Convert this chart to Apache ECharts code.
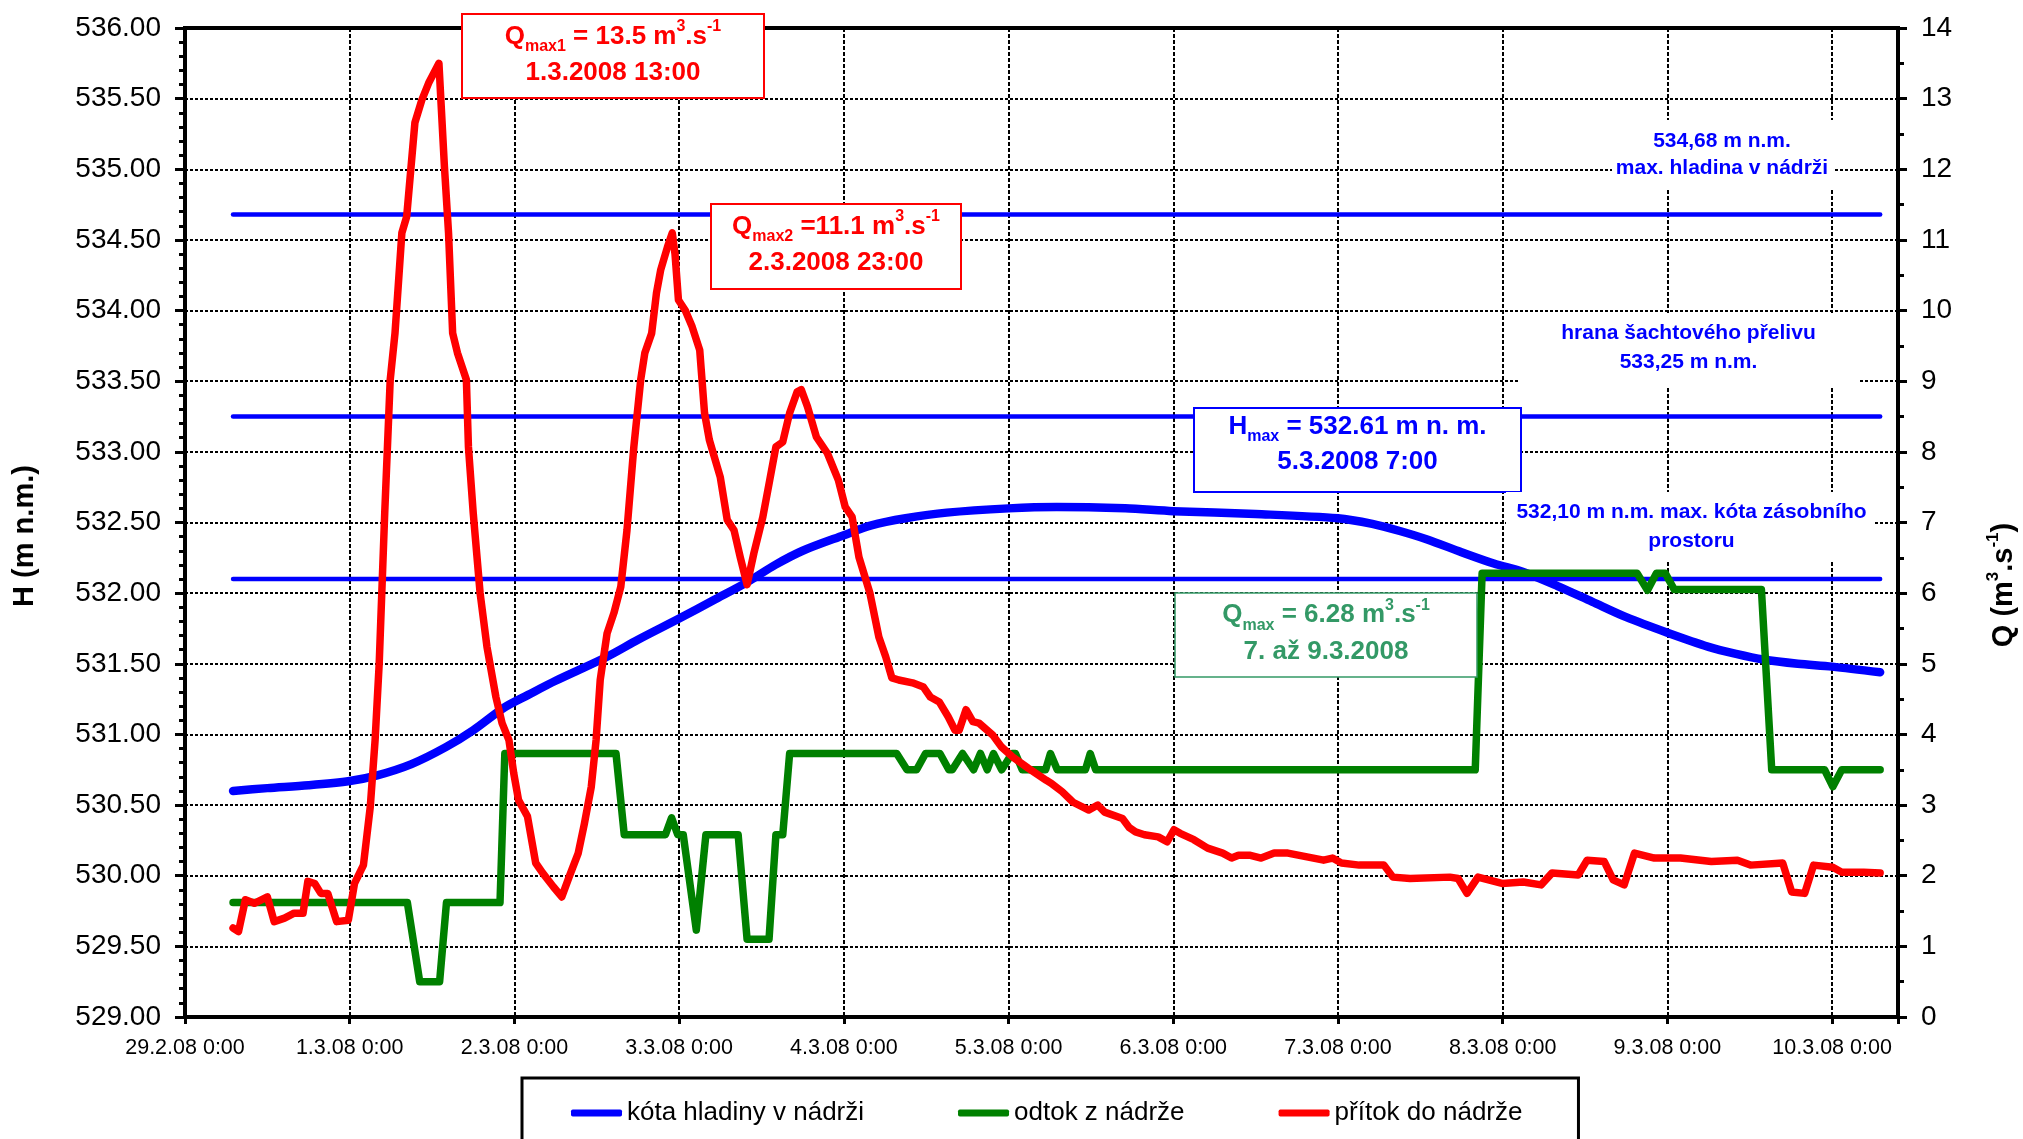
<!DOCTYPE html>
<html lang="cs">
<head>
<meta charset="utf-8">
<title>Průběh povodně na nádrži 29.2. – 10.3.2008</title>
<script src="https://cdn.jsdelivr.net/npm/echarts@6/dist/echarts.min.js"></script>
<style>
  html, body { margin: 0; padding: 0; background: #ffffff; }
  #chart { width: 2023px; height: 1139px; }
</style>
</head>
<body>
<div id="chart"></div>
<script>
// Time on the x axis is counted in hours from 29.2.2008 0:00.
const xTickLabels = ['29.2.08 0:00', '1.3.08 0:00', '2.3.08 0:00', '3.3.08 0:00', '4.3.08 0:00',
  '5.3.08 0:00', '6.3.08 0:00', '7.3.08 0:00', '8.3.08 0:00', '9.3.08 0:00', '10.3.08 0:00'];

// Reservoir water level H [m n.m.]
const hladina = [
  [7, 530.60], [12, 530.62], [18, 530.64], [24, 530.67], [28, 530.71], [33, 530.79], [38, 530.91],
  [42, 531.03], [46.5, 531.19], [50, 531.28], [54, 531.38], [61.5, 531.55], [66, 531.67], [72, 531.82],
  [77, 531.95], [82, 532.08], [86, 532.20], [90, 532.30], [96, 532.41], [100, 532.48], [105, 532.53],
  [111, 532.57], [120, 532.60], [127, 532.61], [137, 532.60], [144, 532.58], [156, 532.56], [168, 532.53],
  [173, 532.49], [177, 532.44], [181, 532.38], [186, 532.29], [190.7, 532.21], [195, 532.15], [200, 532.05],
  [205, 531.94], [210, 531.83], [216, 531.72], [222, 531.62], [226, 531.57], [230, 531.53], [235, 531.50],
  [240, 531.48], [247, 531.44]
];

// Outflow from the reservoir Q [m3/s]
const odtok = [
  [7, 1.62], [32.4, 1.62], [34.2, 0.5], [37.1, 0.5], [38.1, 1.62], [45.9, 1.62], [46.6, 3.73], [62.8, 3.73],
  [64.0, 2.58], [70.0, 2.58], [70.9, 2.82], [71.8, 2.58], [72.6, 2.58], [74.5, 1.23], [75.9, 2.58],
  [80.6, 2.58], [81.9, 1.1], [85.1, 1.1], [86.1, 2.58], [87.1, 2.58], [88.1, 3.73], [103.7, 3.73],
  [105.2, 3.5], [106.6, 3.5], [107.9, 3.73], [110, 3.73], [111.3, 3.5], [111.8, 3.5], [113.3, 3.73],
  [114.9, 3.5], [115.9, 3.73], [116.9, 3.5], [117.8, 3.73], [119, 3.5], [120.5, 3.73], [121, 3.73],
  [122, 3.5], [125.4, 3.5], [126.1, 3.73], [127.1, 3.5], [131.2, 3.5], [131.9, 3.73], [132.7, 3.5],
  [188, 3.5], [189, 6.28], [211.6, 6.28], [213.1, 6.04], [214.4, 6.28], [215.7, 6.28], [217, 6.05],
  [229.7, 6.05], [231.2, 3.5], [238.9, 3.5], [240.1, 3.26], [241.4, 3.5], [247, 3.5]
];

// Inflow into the reservoir Q [m3/s]
const pritok = [
  [7, 1.26], [7.8, 1.21], [8.8, 1.66], [10.1, 1.61], [12.0, 1.70], [13.0, 1.35], [14.5, 1.40], [15.9, 1.47],
  [17.2, 1.47], [17.9, 1.92], [18.9, 1.89], [19.8, 1.75], [20.8, 1.75], [22.1, 1.35], [23.8, 1.37],
  [24.7, 1.89], [26.0, 2.15], [27.0, 2.98], [27.7, 3.92], [28.3, 5.01], [29.1, 7.13], [29.9, 9.02],
  [30.6, 9.68], [31.6, 11.1], [32.3, 11.33], [33.5, 12.66], [34.5, 12.98], [35.5, 13.22], [37, 13.5],
  [37.8, 12.04], [38.4, 11.1], [39.0, 9.68], [39.7, 9.4], [41.0, 9.02], [41.3, 8.07], [42.0, 7.13],
  [43.0, 6.0], [44.0, 5.24], [45.3, 4.53], [46.2, 4.16], [47.2, 3.92], [47.9, 3.45], [48.6, 3.07],
  [49.9, 2.84], [51.1, 2.18], [52.1, 2.04], [53.7, 1.84], [54.9, 1.70], [56.0, 1.99], [57.3, 2.32],
  [58.2, 2.74], [59.2, 3.26], [59.9, 3.92], [60.5, 4.77], [61.5, 5.43], [62.5, 5.72], [63.5, 6.09],
  [64.4, 6.89], [65.4, 8.07], [66.4, 9.02], [67, 9.4], [68, 9.68], [68.7, 10.25], [69.3, 10.57],
  [70.3, 10.9], [71, 11.1], [71.4, 10.8], [71.9, 10.15], [72.9, 10.0], [73.9, 9.77], [75, 9.44],
  [75.7, 8.55], [76.4, 8.17], [78, 7.64], [79, 7.04], [80, 6.89], [80.9, 6.51], [81.9, 6.12], [82.9, 6.57],
  [84.2, 7.08], [85.2, 7.6], [86.1, 8.07], [87.1, 8.14], [88.1, 8.55], [89.2, 8.85], [89.8, 8.88],
  [90.7, 8.64], [92, 8.21], [93.6, 7.98], [95.2, 7.6], [96.2, 7.22], [97.2, 7.08], [98.2, 6.51],
  [99.8, 6.0], [101.1, 5.38], [102.1, 5.10], [103, 4.80], [104, 4.77], [106, 4.73], [107.6, 4.67],
  [108.6, 4.53], [109.9, 4.46], [111.2, 4.25], [112.2, 4.06], [112.8, 4.06], [113.8, 4.35], [114.8, 4.18],
  [115.7, 4.16], [117.7, 3.99], [119, 3.82], [120.6, 3.68], [122.9, 3.52], [125.5, 3.35], [126.2, 3.31],
  [127.8, 3.19], [129.4, 3.04], [131.7, 2.93], [133, 3.0], [134, 2.9], [136.6, 2.81], [137.6, 2.68],
  [138.5, 2.62], [139.8, 2.58], [141.8, 2.55], [143.1, 2.48], [144.1, 2.65], [145, 2.6], [147, 2.51],
  [149, 2.39], [151.2, 2.32], [152.5, 2.25], [153.5, 2.29], [155.1, 2.29], [156.8, 2.25], [158.7, 2.32],
  [160.7, 2.32], [163.3, 2.27], [165.9, 2.22], [167.2, 2.25], [168.5, 2.18], [171.1, 2.15], [174.7, 2.15],
  [176, 1.98], [178.5, 1.96], [184.3, 1.98], [185.5, 1.96], [186.8, 1.75], [188.4, 1.98], [191.9, 1.89],
  [195, 1.91], [197.6, 1.87], [199.2, 2.04], [203, 2.01], [204.3, 2.22], [206.8, 2.2], [208.1, 1.94],
  [209.7, 1.87], [211.2, 2.32], [214.1, 2.25], [217.9, 2.25], [222.4, 2.2], [226.2, 2.22], [228.1, 2.15],
  [232.8, 2.18], [234.1, 1.77], [236, 1.75], [237.3, 2.15], [240.1, 2.12], [241.4, 2.05], [244.6, 2.05],
  [247, 2.04]
];

// Characteristic reservoir levels [m n.m.] and the period they are drawn over [h]
const refLevels = [534.68, 533.25, 532.10];
const refSpan = [7, 247];

const FONT = '"Liberation Sans", Arial, Helvetica, sans-serif';
const BLUE = '#0000FF';
const GREEN = '#008000';
const RED = '#FF0000';
const NOTE_GREEN = '#339966';

const chart = echarts.init(document.getElementById('chart'), null, { renderer: 'canvas' });

function richStyles(color) {
  return {
    n: { fontFamily: FONT, fontSize: 26, fontWeight: 'bold', fill: color, lineHeight: 36, verticalAlign: 'middle' },
    sub: { fontFamily: FONT, fontSize: 16, fontWeight: 'bold', fill: color, lineHeight: 16, verticalAlign: 'bottom' },
    sup: { fontFamily: FONT, fontSize: 16, fontWeight: 'bold', fill: color, lineHeight: 16, verticalAlign: 'top' }
  };
}

// Framed annotation box with two centred lines of text
function noteBox(x, y, w, h, color, lineWidth, lines) {
  const els = [{
    type: 'rect', z: 100,
    shape: { x: x, y: y, width: w, height: h },
    style: { fill: '#ffffff', stroke: color, lineWidth: lineWidth }
  }];
  lines.forEach(function (ln) {
    els.push({
      type: 'text', z: 101, x: x + w / 2, y: ln.y,
      style: {
        text: ln.text, rich: richStyles(color), fill: color,
        font: 'bold 26px ' + FONT, align: 'center', verticalAlign: 'middle'
      }
    });
  });
  return els;
}

// Unframed level description on a white background
function levelLabel(x, y, w, h, cx, lines) {
  const els = [{
    type: 'rect', z: 100,
    shape: { x: x, y: y, width: w, height: h },
    style: { fill: '#ffffff', stroke: null }
  }];
  lines.forEach(function (ln) {
    els.push({
      type: 'text', z: 101, x: cx, y: ln.y,
      style: { text: ln.text, fill: BLUE, font: 'bold 21px ' + FONT, align: 'center', verticalAlign: 'middle' }
    });
  });
  return els;
}

const graphics = [].concat(
  noteBox(462, 14, 302, 84, RED, 2, [
    { text: '{n|Q}{sub|max1}{n| = 13.5 m}{sup|3}{n|.s}{sup|-1}', y: 36.7 },
    { text: '{n|1.3.2008 13:00}', y: 72.5 }
  ]),
  noteBox(711, 204, 250, 85, RED, 2, [
    { text: '{n|Q}{sub|max2}{n| =11.1 m}{sup|3}{n|.s}{sup|-1}', y: 226.7 },
    { text: '{n|2.3.2008 23:00}', y: 262.5 }
  ]),
  noteBox(1194, 408, 327, 84, BLUE, 2, [
    { text: '{n|H}{sub|max}{n| = 532.61 m n. m.}', y: 426.7 },
    { text: '{n|5.3.2008 7:00}', y: 462 }
  ]),
  noteBox(1175, 593, 302, 84, NOTE_GREEN, 1.5, [
    { text: '{n|Q}{sub|max}{n| = 6.28 m}{sup|3}{n|.s}{sup|-1}', y: 615.3 },
    { text: '{n|7. až 9.3.2008}', y: 651.7 }
  ]),
  levelLabel(1612, 120, 222, 68, 1722, [
    { text: '534,68 m n.m.', y: 141.7 },
    { text: 'max. hladina v nádrži', y: 168.3 }
  ]),
  levelLabel(1519, 313, 340, 73, 1688.5, [
    { text: 'hrana šachtového přelivu', y: 333.3 },
    { text: '533,25 m n.m.', y: 362.7 }
  ]),
  levelLabel(1506, 492, 369, 70, 1691.5, [
    { text: '532,10 m n.m. max. kóta zásobního', y: 512.7 },
    { text: 'prostoru', y: 541.7 }
  ]),
  [
    {
      type: 'text', z: 101, x: 25, y: 536, rotation: Math.PI / 2,
      style: { text: 'H (m n.m.)', fill: '#000', font: 'bold 29px ' + FONT, align: 'center', verticalAlign: 'middle' }
    },
    {
      type: 'text', z: 101, x: 2003.5, y: 585, rotation: Math.PI / 2,
      style: {
        text: '{n|Q (m}{sup|3}{n|.s}{sup|-1}{n|)}', align: 'center', verticalAlign: 'middle', fill: '#000',
        font: 'bold 29px ' + FONT,
        rich: {
          n: { fontFamily: FONT, fontSize: 29, fontWeight: 'bold', fill: '#000', lineHeight: 38, verticalAlign: 'middle' },
          sup: { fontFamily: FONT, fontSize: 17, fontWeight: 'bold', fill: '#000', lineHeight: 17, verticalAlign: 'top' }
        }
      }
    }
  ]
);

const refSeries = refLevels.map(function (lvl) {
  return {
    type: 'line', yAxisIndex: 0, silent: true, symbol: 'none', z: 2,
    data: [[refSpan[0], lvl], [refSpan[1], lvl]],
    lineStyle: { color: BLUE, width: 4.5, cap: 'round' },
    itemStyle: { color: BLUE }
  };
});

const option = {
  animation: false,
  backgroundColor: '#ffffff',
  textStyle: { fontFamily: FONT },
  grid: {
    left: 185, right: 125, top: 28, bottom: 122,
    show: true, borderColor: '#000', borderWidth: 4,
    containLabel: false, outerBoundsMode: 'none'
  },
  legend: {
    data: ['kóta hladiny v nádrži', 'odtok z nádrže', 'přítok do nádrže'],
    left: 522, top: 1078,
    orient: 'horizontal',
    icon: 'roundRect', itemWidth: 51, itemHeight: 7, itemGap: 94,
    padding: [20, 56, 40, 49],
    borderColor: '#000', borderWidth: 3,
    textStyle: { fontFamily: FONT, fontSize: 26, color: '#000', lineHeight: 30 }
  },
  xAxis: {
    type: 'value', min: 0, max: 249.6, interval: 24,
    axisLine: { onZero: false, lineStyle: { color: '#000', width: 4 } },
    axisTick: { length: 7, lineStyle: { color: '#000', width: 3 } },
    axisLabel: {
      margin: 20, color: '#000', fontFamily: FONT, fontSize: 21.5,
      formatter: function (v) {
        const i = Math.round(v / 24);
        return (Math.abs(v - i * 24) < 1e-6 && xTickLabels[i]) ? xTickLabels[i] : '';
      }
    },
    splitLine: { show: true, lineStyle: { color: '#000', width: 2, type: [4, 2] } }
  },
  yAxis: [
    {
      type: 'value', position: 'left', min: 529, max: 536, interval: 0.5,
      axisLine: { show: true, onZero: false, lineStyle: { color: '#000', width: 4 } },
      axisTick: { show: true, length: 10, lineStyle: { color: '#000', width: 3 } },
      minorTick: { show: true, splitNumber: 5, length: 6, lineStyle: { color: '#000', width: 3 } },
      axisLabel: {
        margin: 24, color: '#000', fontFamily: FONT, fontSize: 28,
        formatter: function (v) { return v.toFixed(2); }
      },
      splitLine: { show: true, lineStyle: { color: '#000', width: 2, type: [3, 2] } }
    },
    {
      type: 'value', position: 'right', min: 0, max: 14, interval: 1,
      axisLine: { show: true, onZero: false, lineStyle: { color: '#000', width: 4 } },
      axisTick: { show: true, length: 9, lineStyle: { color: '#000', width: 3 } },
      minorTick: { show: true, splitNumber: 2, length: 6, lineStyle: { color: '#000', width: 3 } },
      axisLabel: { margin: 23, color: '#000', fontFamily: FONT, fontSize: 28 },
      splitLine: { show: false }
    }
  ],
  series: refSeries.concat([
    {
      name: 'kóta hladiny v nádrži', type: 'line', yAxisIndex: 0, symbol: 'none', z: 3,
      smooth: 0.3, data: hladina, color: BLUE,
      lineStyle: { color: BLUE, width: 8.5, cap: 'round', join: 'round' },
      itemStyle: { color: BLUE }
    },
    {
      name: 'odtok z nádrže', type: 'line', yAxisIndex: 1, symbol: 'none', z: 4,
      data: odtok, color: GREEN,
      lineStyle: { color: GREEN, width: 7.5, cap: 'round', join: 'round' },
      itemStyle: { color: GREEN }
    },
    {
      name: 'přítok do nádrže', type: 'line', yAxisIndex: 1, symbol: 'none', z: 5,
      data: pritok, color: RED,
      lineStyle: { color: RED, width: 7.5, cap: 'round', join: 'round' },
      itemStyle: { color: RED }
    }
  ]),
  graphic: { elements: graphics }
};

chart.setOption(option);
</script>
</body>
</html>
